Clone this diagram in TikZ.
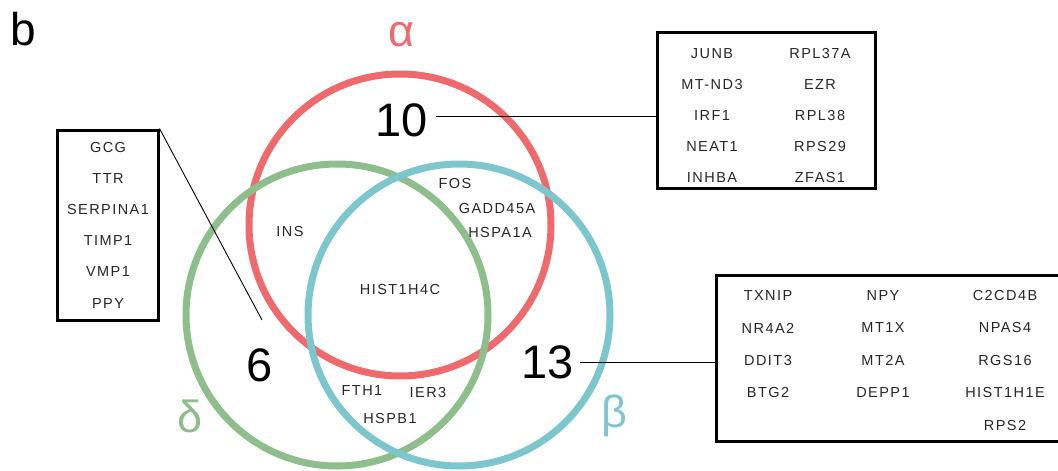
\documentclass[tikz,border=0pt]{standalone}
\usepackage{fontspec}
\setmainfont{Liberation Sans}
\newfontfamily\genefont[LetterSpace=10]{Liberation Sans}
\definecolor{alphared}{RGB}{238,106,108}
\definecolor{betablue}{RGB}{124,199,205}
\definecolor{deltagreen}{RGB}{141,190,139}

\begin{document}
\begin{tikzpicture}[x=1pt,y=-1pt,
	ring/.style={line width=7pt},
	gene/.style={font=\genefont\fontsize{14.5}{16}\selectfont,text=black!85},
	count/.style={font=\fontsize{47}{50}\selectfont},
	greek/.style={font=\fontsize{45}{50}\selectfont},
	genebox/.style={draw,line width=3pt,inner sep=0pt},
	link/.style={line width=0.9pt}]
\useasboundingbox (0,0) rectangle (1058,471);

\node[font=\fontsize{46}{50}\selectfont] (panel) at (23,29) {b};

% the three sets
\draw[ring,alphared] (400,225) circle[radius=151pt];
\draw[ring,deltagreen] (337,315) circle[radius=151pt];
\draw[ring,betablue] (459,315) circle[radius=151pt];

\node[greek,alphared] (alpha) at (402,35) {α};
\node[greek,deltagreen] (delta) at (190,416) {δ};
\node[greek,betablue] (beta) at (614,416) {β};

% counts of the outer regions
\node[count] (n10) at (402,120) {10};
\node[count] (n6) at (260,365) {6};
\node[count] (n13) at (548,362) {13};

% genes in the overlaps
\node[gene] (ins) at (290,232) {INS};
\node[gene] (fos) at (455,184) {FOS};
\node[gene] (gadd) at (497,209) {GADD45A};
\node[gene] (hspa) at (500,233) {HSPA1A};
\node[gene] (hist) at (400,290) {HIST1H4C};
\node[gene] (fth) at (362,391) {FTH1};
\node[gene] (ier) at (428,393) {IER3};
\node[gene] (hspb) at (390,419) {HSPB1};

% gene lists
\node[genebox,minimum width=101pt,minimum height=190pt] (boxD) at (107.5,225) {};
\foreach \g [count=\i] in {GCG,TTR,SERPINA1,TIMP1,VMP1,PPY}
	\node[gene] (d\i) at (108,116+31.2*\i) {\g};

\node[genebox,minimum width=218pt,minimum height=156pt] (boxA) at (766,110) {};
\foreach \g [count=\i] in {JUNB,MT-ND3,IRF1,NEAT1,INHBA}
	\node[gene] (a\i) at (712,22+31.2*\i) {\g};
\foreach \g [count=\i] in {RPL37A,EZR,RPL38,RPS29,ZFAS1}
	\node[gene] (b\i) at (820,22+31.2*\i) {\g};

\node[genebox,minimum width=344pt,minimum height=166pt] (boxB) at (888,358) {};
\foreach \g [count=\i] in {TXNIP,NR4A2,DDIT3,BTG2}
	\node[gene] (c\i) at (768,263+32.5*\i) {\g};
\foreach \g [count=\i] in {NPY,MT1X,MT2A,DEPP1}
	\node[gene] (e\i) at (883,263+32.5*\i) {\g};
\foreach \g [count=\i] in {C2CD4B,NPAS4,RGS16,HIST1H1E,RPS2}
	\node[gene] (f\i) at (1005,263+32.5*\i) {\g};

% leader lines
\coordinate (tip6) at (262,320);
\draw[link] (boxD.north east) -- (tip6);
\draw[link] (n10.east) ++(4,-4) coordinate (from10) -- (from10 -| boxA.west);
\draw[link] (n13.east) ++(2,0) coordinate (from13) -- (from13 -| boxB.west);

\end{tikzpicture}
\end{document}
